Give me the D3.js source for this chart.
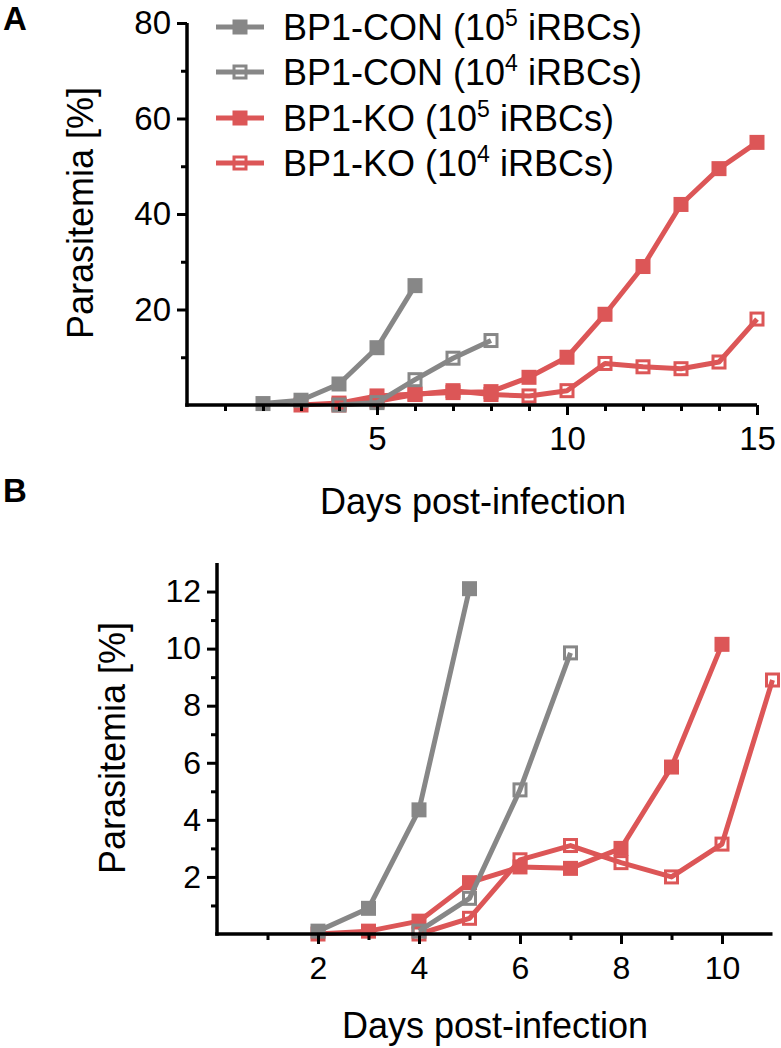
<!DOCTYPE html>
<html>
<head>
<meta charset="utf-8">
<script src="https://cdn.jsdelivr.net/npm/d3@7"></script>
<style>
html,body{margin:0;padding:0;background:#fff;}
svg{display:block;font-family:"Liberation Sans", Arial, Helvetica, sans-serif;}
</style>
</head>
<body>
<svg id="chart" width="781" height="1048"></svg>
<script>
// ---------- DATA ----------
const seriesNames = ["BP1-CON", "BP1-CON", "BP1-KO", "BP1-KO"];
const seriesDose = ["5", "4", "5", "4"];
const seriesFilled = [true, false, true, false];
const seriesColor = ["#878787", "#878787", "#dc5657", "#dc5657"];

// Panel A
const aCon5Days = [2, 3, 4, 5, 6];
const aCon5Vals = [0.3, 1.0, 4.4, 12, 25];
const aCon4Days = [4, 5, 6, 7, 8];
const aCon4Vals = [0, 0.5, 5.3, 9.8, 13.5];
const aKo5Days = [3, 4, 5, 6, 7, 8, 9, 10, 11, 12, 13, 14, 15];
const aKo5Vals = [0, 0.4, 1.9, 2.3, 2.6, 2.8, 5.8, 10, 19, 29, 42, 49.5, 55];
const aKo4Days = [4, 5, 6, 7, 8, 9, 10, 11, 12, 13, 14, 15];
const aKo4Vals = [0, 0.8, 2.2, 3.0, 2.2, 1.9, 3.0, 8.7, 8.0, 7.6, 9.0, 18];
const aXTicks = [5, 10, 15];
const aXMinor = [1,2,3,4,6,7,8,9,11,12,13,14];
const aYTicks = [20, 40, 60, 80];
const aYMinor = [10, 30, 50, 70];

// Panel B
const bCon5Days = [2, 3, 4, 5];
const bCon5Vals = [0.1, 0.9, 4.35, 12.1];
const bCon4Days = [4, 5, 6, 7];
const bCon4Vals = [0.1, 1.25, 5.05, 9.85];
const bKo5Days = [2, 3, 4, 5, 6, 7, 8, 9, 10];
const bKo5Vals = [0, 0.1, 0.45, 1.8, 2.35, 2.3, 3.0, 5.85, 10.15];
const bKo4Days = [4, 5, 6, 7, 8, 9, 10, 11];
const bKo4Vals = [0, 0.55, 2.6, 3.1, 2.5, 2.0, 3.15, 8.9];
const bXTicks = [2, 4, 6, 8, 10];
const bXMinor = [1, 3, 5, 7, 9];
const bYTicks = [2, 4, 6, 8, 10, 12];
const bYMinor = [1, 3, 5, 7, 9, 11];

const yLabel = "Parasitemia [%]";
const xLabel = "Days post-infection";

// ---------- DRAW ----------
const svg = d3.select("#chart");
const LABEL_FONT = 36;
const MS = 15;      // marker size
const LW = 5;       // line width

function zip(d, v) { return d.map((x, i) => ({x: x, y: v[i]})); }

function addMarker(sel, cx, cy, i) {
  const f = seriesFilled[i];
  const s = f ? MS : MS - 3;
  return sel.attr("x", d => cx(d) - s / 2).attr("y", d => cy(d) - s / 2)
    .attr("width", s).attr("height", s)
    .attr("fill", f ? seriesColor[i] : "none")
    .attr("stroke", f ? "none" : seriesColor[i])
    .attr("stroke-width", 3);
}

function panel(cfg) {
  const g = svg.append("g");
  const x = d3.scaleLinear().domain(cfg.xDomain).range(cfg.xRange);
  const y = d3.scaleLinear().domain(cfg.yDomain).range(cfg.yRange);

  const line = d3.line().x(d => x(d.x)).y(d => y(d.y));
  for (let i = cfg.series.length - 1; i >= 0; i--) {
    const data = cfg.series[i];
    g.append("path").datum(data).attr("d", line)
      .attr("fill", "none").attr("stroke", seriesColor[i]).attr("stroke-width", LW)
      .attr("stroke-linejoin", "round");
    addMarker(g.selectAll(null).data(data).enter().append("rect"), d => x(d.x), d => y(d.y), i);
  }

  const xAxisY = cfg.yRange[0];
  const yAxisX = cfg.xRange[0];
  const xMaj = g.append("g").attr("transform", `translate(0,${xAxisY})`)
    .call(d3.axisBottom(x).tickValues(cfg.xTicks).tickSize(10).tickSizeOuter(0).tickPadding(12));
  const xMin = g.append("g").attr("transform", `translate(0,${xAxisY})`)
    .call(d3.axisBottom(x).tickValues(cfg.xMinor).tickSize(6).tickFormat(""));
  const yMaj = g.append("g").attr("transform", `translate(${yAxisX},0)`)
    .call(d3.axisLeft(y).tickValues(cfg.yTicks).tickSize(10).tickSizeOuter(0).tickPadding(6));
  const yMin = g.append("g").attr("transform", `translate(${yAxisX},0)`)
    .call(d3.axisLeft(y).tickValues(cfg.yMinor).tickSize(6).tickFormat(""));
  [xMaj, xMin, yMaj, yMin].forEach(a => {
    a.select(".domain").remove();
    a.selectAll(".tick line").attr("stroke", "#000").attr("stroke-width", 3);
    a.selectAll(".tick text").attr("fill", "#000").attr("font-size", cfg.tickFont)
      .attr("font-family", "'Liberation Sans', Arial, sans-serif");
  });
  g.append("line").attr("x1", x(cfg.xDomain[0]) - 1.75).attr("x2", x(cfg.xDomain[1]))
    .attr("y1", xAxisY).attr("y2", xAxisY).attr("stroke", "#000").attr("stroke-width", 3.5);
  g.append("line").attr("x1", yAxisX).attr("x2", yAxisX)
    .attr("y1", y(cfg.yDomain[0]) + 1.75).attr("y2", y(cfg.yDomain[1]))
    .attr("stroke", "#000").attr("stroke-width", 3.5);

  g.append("text").attr("transform", `translate(${cfg.yLabelX},${cfg.yLabelY}) rotate(-90)`)
    .attr("text-anchor", "middle").attr("dominant-baseline", "central")
    .attr("font-size", LABEL_FONT).attr("fill", "#000").text(yLabel);
  g.append("text").attr("x", cfg.xLabelX).attr("y", cfg.xLabelY)
    .attr("text-anchor", "middle").attr("dominant-baseline", "central")
    .attr("font-size", LABEL_FONT).attr("fill", "#000").text(xLabel);
  g.append("text").attr("x", 3).attr("y", cfg.letterY)
    .attr("font-size", 33).attr("font-weight", "bold").attr("fill", "#000").text(cfg.letter);
}

panel({
  xDomain: [0, 15], xRange: [187, 757],
  yDomain: [0, 80], yRange: [405, 23],
  xTicks: aXTicks, xMinor: aXMinor, yTicks: aYTicks, yMinor: aYMinor,
  series: [zip(aCon5Days, aCon5Vals), zip(aCon4Days, aCon4Vals), zip(aKo5Days, aKo5Vals), zip(aKo4Days, aKo4Vals)],
  yLabelX: 80, yLabelY: 213, xLabelX: 473, xLabelY: 501, tickFont: 33,
  letter: "A", letterY: 30
});

panel({
  xDomain: [0, 11], xRange: [217, 772.5],
  yDomain: [0, 13], yRange: [934, 563],
  xTicks: bXTicks, xMinor: bXMinor, yTicks: bYTicks, yMinor: bYMinor,
  series: [zip(bCon5Days, bCon5Vals), zip(bCon4Days, bCon4Vals), zip(bKo5Days, bKo5Vals), zip(bKo4Days, bKo4Vals)],
  yLabelX: 112, yLabelY: 748, xLabelX: 495, xLabelY: 1025, tickFont: 32,
  letter: "B", letterY: 502
});

// legend (panel A)
const legY = [27, 72, 118, 163];
const leg = svg.append("g");
legY.forEach((ly, i) => {
  leg.append("line").attr("x1", 216).attr("x2", 264).attr("y1", ly).attr("y2", ly)
    .attr("stroke", seriesColor[i]).attr("stroke-width", LW);
  addMarker(leg.append("rect").datum(0), () => 240, () => ly, i);
  const t = leg.append("text").attr("x", 283).attr("y", ly + 13)
    .attr("font-size", LABEL_FONT).attr("fill", "#000");
  t.append("tspan").text(seriesNames[i] + " (10");
  t.append("tspan").attr("font-size", 23).attr("dy", -14).text(seriesDose[i]);
  t.append("tspan").attr("dy", 14).text(" iRBCs)");
});
</script>
</body>
</html>
